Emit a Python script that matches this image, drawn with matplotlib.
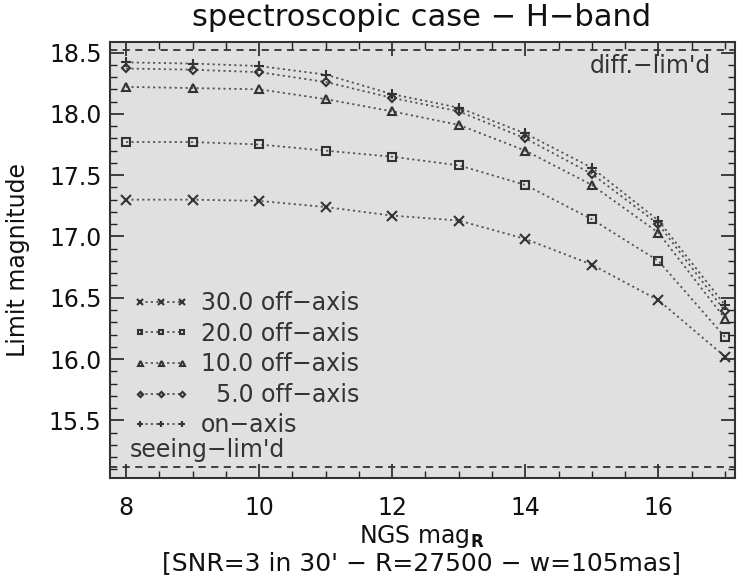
import numpy as np
import matplotlib
matplotlib.use("Agg")
import matplotlib.pyplot as plt
from matplotlib.ticker import MultipleLocator

# NGS magnitude (R band)
ngs_mag = [8, 9, 10, 11, 12, 13, 14, 15, 16, 17]

# limit magnitude for each off-axis distance
off30 = [17.30, 17.30, 17.29, 17.24, 17.17, 17.13, 16.98, 16.77, 16.48, 16.02]
off20 = [17.77, 17.77, 17.75, 17.70, 17.65, 17.58, 17.42, 17.14, 16.80, 16.18]
off10 = [18.22, 18.21, 18.20, 18.12, 18.02, 17.91, 17.70, 17.42, 17.03, 16.33]
off5 = [18.37, 18.36, 18.34, 18.26, 18.13, 18.02, 17.80, 17.51, 17.10, 16.39]
on_axis = [18.42, 18.41, 18.39, 18.32, 18.16, 18.05, 17.84, 17.56, 17.13, 16.44]

labels = ["30.0 off\u2212axis", "20.0 off\u2212axis", "10.0 off\u2212axis",
          "  5.0 off\u2212axis", "on\u2212axis"]
markers = ["x", "s", "^", "D", "+"]

diff_lim = 18.52
seeing_lim = 15.12

plt.rcParams['font.family'] = ['DejaVu Sans']
fs = 17

fig = plt.figure(figsize=(7.37, 5.8), dpi=100)
ax = fig.add_axes([110/737, 1-478/580, 625/737, 436.5/580])
ax.set_facecolor('#e0e0e0')

series = [off30, off20, off10, off5, on_axis]
for vals, lab, mk in zip(series, labels, markers):
    ms = 7 if mk in ("x", "+") else 6
    if mk == "D":
        ms = 4.5
    ax.plot(ngs_mag, vals, linestyle=(0, (1.2, 1.8)), color='#555555', lw=1.3,
            marker=mk, ms=ms, mfc='none', mec='#333333', mew=1.5, label=lab)

ax.axhline(diff_lim, color='#333333', lw=1.3, ls=(0, (4, 3)))
ax.axhline(seeing_lim, color='#333333', lw=1.3, ls=(0, (4, 3)))

ax.text(0.962, 0.945, "diff.\u2212lim'd", transform=ax.transAxes, ha='right', va='center',
        fontsize=fs, color='#333333')
ax.text(0.032, 0.065, "seeing\u2212lim'd", transform=ax.transAxes, ha='left', va='center',
        fontsize=fs, color='#333333')

ax.set_xlim(7.76, 17.15)
ax.set_ylim(15.03, 18.59)
ax.xaxis.set_major_locator(MultipleLocator(2))
ax.xaxis.set_minor_locator(MultipleLocator(0.5))
ax.yaxis.set_major_locator(MultipleLocator(0.5))
ax.yaxis.set_minor_locator(MultipleLocator(0.1))
ax.yaxis.set_major_formatter(matplotlib.ticker.FormatStrFormatter('%.1f'))
ax.tick_params(which='both', direction='in', top=True, right=True, colors='#222222',
               labelsize=fs, labelcolor='#111111')
ax.tick_params(which='major', length=10, width=1.2)
ax.tick_params(which='minor', length=5, width=1.0)
ax.tick_params(axis='x', pad=13)
ax.tick_params(axis='y', pad=6)
for s in ax.spines.values():
    s.set_linewidth(1.5)
    s.set_color('#333333')

leg = ax.legend(loc='lower left', bbox_to_anchor=(0.01, 0.055), frameon=False, numpoints=3,
                handlelength=2.4, handletextpad=0.5, labelspacing=0.28, markerscale=0.6,
                fontsize=fs, borderaxespad=0.3)
for t in leg.get_texts():
    t.set_color('#333333')

fig.text(422/737, 1-17/580, "spectroscopic case \u2212 H\u2212band", ha='center', va='center',
         fontsize=22, color='#111111')
fig.text(18/737, 1-260/580, "Limit magnitude", rotation=90, ha='center', va='center',
         fontsize=fs, color='#111111')
fig.text(422/737, 1-537/580, r"NGS mag$_\mathbf{R}$", ha='center', va='center',
         fontsize=fs, color='#111111')
fig.text(422/737, 1-563/580, "[SNR=3 in 30' \u2212 R=27500 \u2212 w=105mas]", ha='center',
         va='center', fontsize=18, color='#111111')

fig.savefig("out.png", dpi=100)
